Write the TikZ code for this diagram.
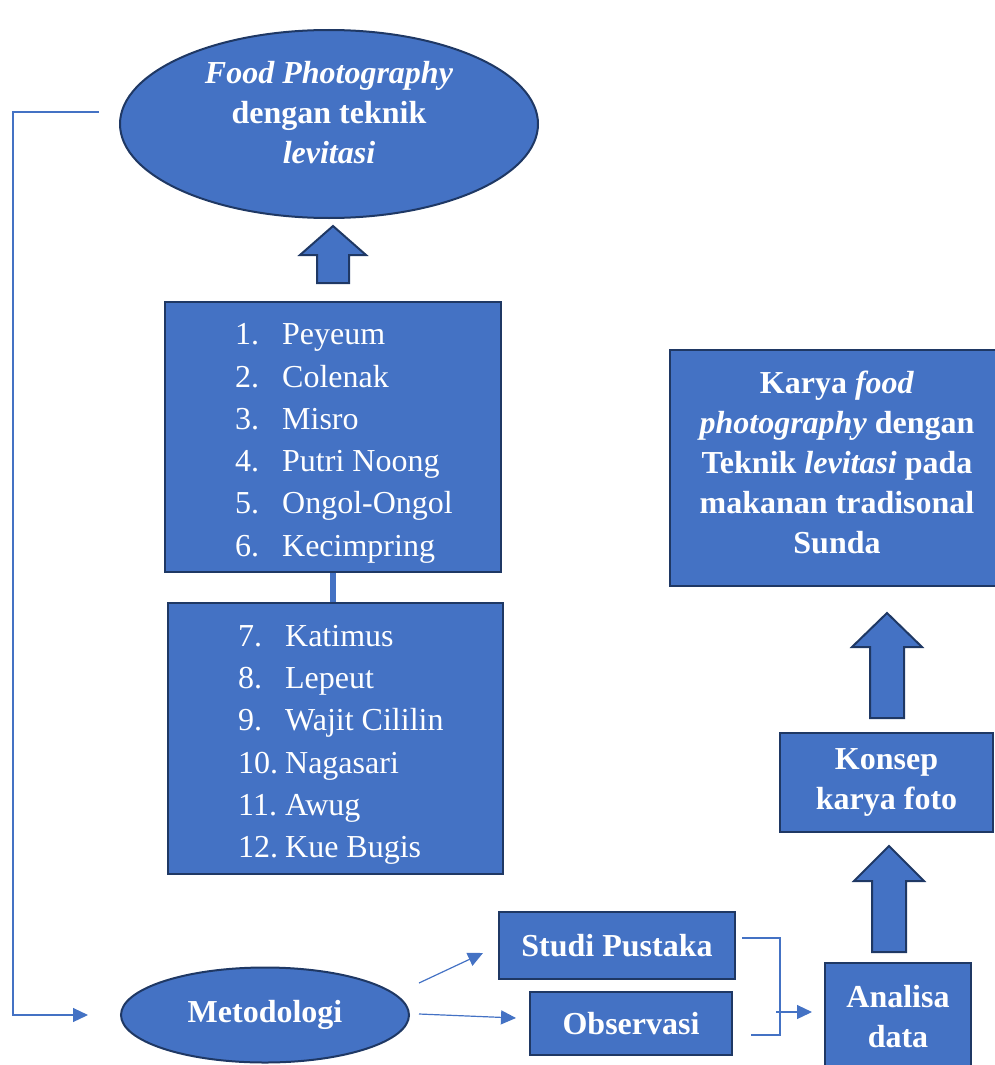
\documentclass[tikz,border=0pt]{standalone}
\usepackage{fontspec}
\setmainfont{Liberation Serif}
\usepackage{xcolor}
\usetikzlibrary{shapes.geometric}
\usetikzlibrary{arrows.meta}
\definecolor{DiagBlue}{HTML}{4472C4}
\definecolor{DiagNavy}{HTML}{1F3864}

\begin{document}
\begin{tikzpicture}[
    x = 1pt,
    y = -1pt,
    every node/.style = {
        text  = white,
        font  = \fontsize{32}{40}\selectfont\bfseries,
        align = center,
    },
    bluebox/.style = {
        shape      = rectangle,
        draw       = DiagNavy,
        fill       = DiagBlue,
        line width = 2pt,
    },
    blueellipse/.style = {
        shape      = ellipse,
        draw       = DiagNavy,
        fill       = DiagBlue,
        line width = 2pt,
        inner sep  = 0pt,
    },
    listtext/.style = {
        font      = \fontsize{32}{42.3}\selectfont,
        align     = left,
        anchor    = west,
        inner sep = 0pt,
    },
    blockarrow/.style = {
        draw       = DiagNavy,
        fill       = DiagBlue,
        line width = 2pt,
    },
    flowline/.style = {
        draw       = DiagBlue,
        line width = 1.2pt,
    },
    flowarrow/.style = {
        flowline,
        -{Triangle[length = 15pt, width = 14pt]},
    },
]
    \useasboundingbox (0,0) rectangle (995,1065);

    % top ellipse
    \node[blueellipse, minimum width = 418pt, minimum height = 188pt] (foodell) at (329,124) {};
    \node (foodtxt) at (329,113) {\textit{Food Photography}\\dengan teknik\\\textit{levitasi}};

    \draw[blockarrow] (317,283) -- (317,255) -- (300,255) -- (333,226) -- (366,255) -- (349,255) -- (349,283) -- cycle;

    % list boxes
    \node[bluebox, minimum width = 336pt, minimum height = 270pt] (listA) at (333,437) {};
    \node[listtext] (itemsA) at (235,442) {%
        \begin{tabular}{@{}p{47pt}@{}l@{}}
            1. & Peyeum\\
            2. & Colenak\\
            3. & Misro\\
            4. & Putri Noong\\
            5. & Ongol-Ongol\\
            6. & Kecimpring
        \end{tabular}};

    \node[bluebox, minimum width = 335pt, minimum height = 271pt] (listB) at (335.5,738.5) {};
    \node[listtext] (itemsB) at (238,743.5) {%
        \begin{tabular}{@{}p{47pt}@{}l@{}}
            7. & Katimus\\
            8. & Lepeut\\
            9. & Wajit Cililin\\
            10. & Nagasari\\
            11. & Awug\\
            12. & Kue Bugis
        \end{tabular}};

    \draw[DiagBlue, line width = 6pt] (listA.south) -- (listA.south |- listB.north);

    % right column
    \node[bluebox, minimum width = 334pt, minimum height = 236pt] (karya) at (837,468) {};
    \node (karyatxt) at (837,462) {Karya \textit{food}\\\textit{photography} dengan\\Teknik \textit{levitasi} pada\\makanan tradisonal\\Sunda};

    \draw[blockarrow] (870,718) -- (870,647) -- (852,647) -- (887,613) -- (922,647) -- (904,647) -- (904,718) -- cycle;

    \node[bluebox, minimum width = 213pt, minimum height = 99pt] (konsep) at (886.5,782.5) {Konsep\\karya foto};

    \draw[blockarrow] (872,952) -- (872,881) -- (854,881) -- (889,846) -- (924,881) -- (906,881) -- (906,952) -- cycle;

    \node[bluebox, minimum width = 146pt, minimum height = 107pt] (analisa) at (898,1016.5) {Analisa\\data};

    % bottom row
    \node[blueellipse, minimum width = 288pt, minimum height = 95pt] (metell) at (265,1015) {Metodologi};
    \node[bluebox, minimum width = 236pt, minimum height = 67pt] (studi) at (617,945.5) {Studi Pustaka};
    \node[bluebox, minimum width = 202pt, minimum height = 63pt] (obs) at (631,1023.5) {Observasi};

    % connectors
    \draw[flowarrow] (foodell.west) ++(-20,-12) -- (13,112) |- ([xshift = -32pt]metell.west);
    \draw[flowarrow] ([shift = {(154,-32)}]metell.center) -- ([shift = {(-15,7.5)}]studi.west);
    \draw[flowarrow] ([shift = {(154,-1)}]metell.center) -- ([shift = {(-13,-5.5)}]obs.west);
    \draw[flowline] ([shift = {(6,-7.5)}]studi.east) -- ++(38,0) |- ([shift = {(18,11.5)}]obs.east);
    \draw[flowarrow] ([shift = {(-48,-4.5)}]analisa.west) -- ([shift = {(-12,-4.5)}]analisa.west);
\end{tikzpicture}
\end{document}
